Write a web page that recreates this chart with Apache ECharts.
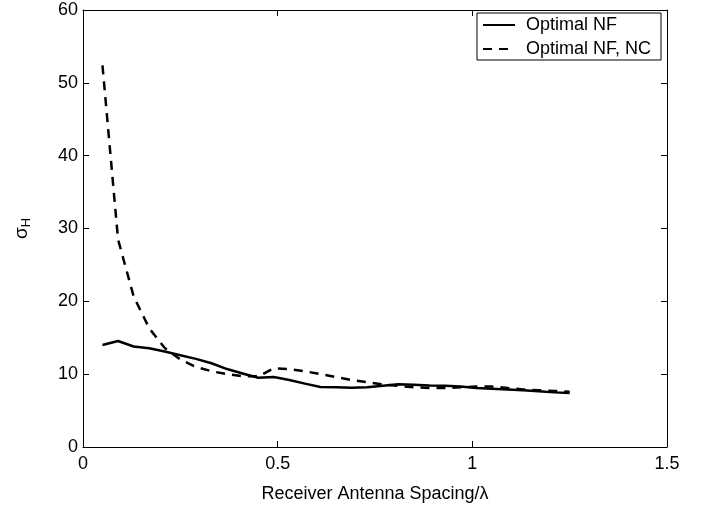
<!DOCTYPE html>
<html><head><meta charset="utf-8">
<script src="https://cdn.jsdelivr.net/npm/echarts@6/dist/echarts.min.js"></script>
<style>html,body{margin:0;padding:0;background:#fff}#c{width:711px;height:510px}</style>
</head><body><div id="c"></div>
<script>
const spacing = [0.05,0.09,0.13,0.17,0.21,0.25,0.29,0.33,0.37,0.41,0.45,0.49,0.53,0.57,0.61,0.65,0.69,0.73,0.77,0.81,0.85,0.89,0.93,0.97,1.01,1.05,1.09,1.13,1.17,1.21,1.25];
const optimalNF = [14.0,14.55,13.8,13.55,13.1,12.6,12.1,11.5,10.7,10.1,9.5,9.6,9.2,8.7,8.25,8.2,8.15,8.2,8.4,8.6,8.55,8.45,8.4,8.3,8.1,8.0,7.9,7.8,7.65,7.5,7.4];
const optimalNFNC = [52.4,28.5,20.7,16.3,13.6,12.0,11.0,10.4,10.0,9.7,9.7,10.8,10.7,10.4,10.0,9.6,9.2,8.9,8.6,8.4,8.2,8.1,8.1,8.2,8.3,8.3,8.1,7.9,7.8,7.7,7.6];
const xTicks = [0,0.5,1,1.5];
const yTicks = [0,10,20,30,40,50,60];
const seriesNames = ['Optimal NF','Optimal NF, NC'];

const font = 'Liberation Sans, Arial, Helvetica, sans-serif';
const pair = (xs, ys) => xs.map((x,i)=>[x, ys[i]]);
const chart = echarts.init(document.getElementById('c'), null, {renderer:'canvas'});
const axisBase = {
  axisLine:{show:true, onZero:false, lineStyle:{color:'#000', width:1}},
  axisTick:{show:true, inside:true, length:6, lineStyle:{color:'#000'}},
  splitLine:{show:false}
};
chart.setOption({
  animation:false,
  backgroundColor:'#fff',
  grid:{left:83, right:44, top:10, bottom:63, show:false},
  legend:{
    data:seriesNames, right:50, top:13, orient:'vertical',
    backgroundColor:'#fff', borderColor:'#000', borderWidth:1, borderRadius:0,
    padding:[3,10,2,5], itemGap:6, itemWidth:32, itemHeight:20,
    itemStyle:{opacity:0},
    textStyle:{fontFamily:font, fontSize:18, color:'#000', padding:[0,0,0,6]}
  },
  xAxis:[
    Object.assign({type:'value', min:0, max:1.5, interval:0.5, position:'bottom',
      name:'Receiver Antenna Spacing/\u03bb', nameLocation:'middle', nameGap:38,
      nameTextStyle:{fontFamily:font, fontSize:18, color:'#000'},
      axisLabel:{fontFamily:font, fontSize:18, color:'#000', margin:8,
        formatter:v=> xTicks.includes(v) ? String(v) : ''}}, axisBase),
    Object.assign({type:'value', min:0, max:1.5, interval:0.5, position:'top',
      axisLabel:{show:false}}, axisBase)
  ],
  yAxis:[
    Object.assign({type:'value', min:0, max:60, interval:10, position:'left',
      name:'{s|\u03c3}{h|H}', nameLocation:'middle', nameGap:50, nameRotate:90,
      nameTextStyle:{fontFamily:font, fontSize:18, color:'#000',
        rich:{s:{fontFamily:font, fontSize:19, color:'#000'}, h:{fontFamily:font, fontSize:13, color:'#000', padding:[9,0,0,0]}}},
      axisLabel:{fontFamily:font, fontSize:18, color:'#000', margin:5,
        formatter:v=> yTicks.includes(v) ? String(v) : ''}}, axisBase),
    Object.assign({type:'value', min:0, max:60, interval:10, position:'right',
      axisLabel:{show:false}}, axisBase)
  ],
  series:[
    {name:seriesNames[0], type:'line', data:pair(spacing, optimalNF), showSymbol:false, symbol:'none',
      lineStyle:{color:'#000', width:2.5, type:'solid'}, itemStyle:{color:'#000'}},
    {name:seriesNames[1], type:'line', data:pair(spacing, optimalNFNC), showSymbol:false, symbol:'none',
      lineStyle:{color:'#000', width:2.5, type:[9,7]}, itemStyle:{color:'#000'}}
  ]
});
</script></body></html>
